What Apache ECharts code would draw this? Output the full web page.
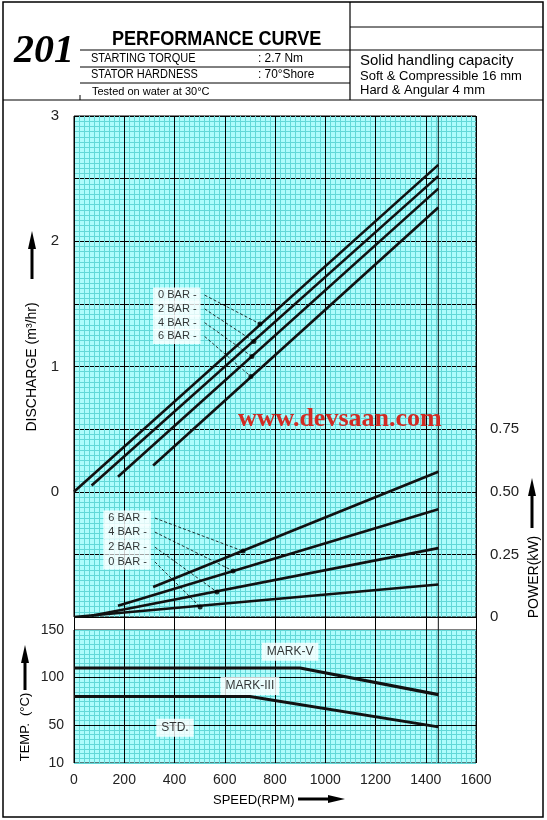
<!DOCTYPE html>
<html><head><meta charset="utf-8">
<script src="https://cdn.jsdelivr.net/npm/echarts@6/dist/echarts.min.js"></script>
<style>html,body{margin:0;padding:0;background:#fff}#c{width:547px;height:820px}</style>
</head><body><div id="c"></div>
<script>
// ---------- data ----------
const speedTicks = [0, 200, 400, 600, 800, 1000, 1200, 1400, 1600];
const dischargeTicks = [0, 1, 2, 3];
const powerTicks = [0, 0.25, 0.5, 0.75];
const tempTicks = [10, 50, 100, 150];
const barNames = ['0 BAR', '2 BAR', '4 BAR', '6 BAR'];
const ratedSpeed = 1450;

const discharge0Bar = [[0, 0], [1450, 2.61]];
const discharge2Bar = [[70, 0.05], [1450, 2.52]];
const discharge4Bar = [[175, 0.12], [1450, 2.42]];
const discharge6Bar = [[315, 0.21], [1450, 2.27]];

const power0Bar = [[0, 0], [1450, 0.13]];
const power2Bar = [[70, 0.005], [1450, 0.275]];
const power4Bar = [[175, 0.045], [1450, 0.43]];
const power6Bar = [[315, 0.12], [1450, 0.58]];

const tempMarkV = [[0, 110], [900, 110], [1450, 82]];
const tempStd = [[0, 80], [700, 80], [1450, 48]];

const dischargeDots = [[740, 1.34], [716, 1.2], [708, 1.08], [704, 0.92]];
const dischargeLabelAt = [[520, 1.57], [520, 1.46], [520, 1.35], [520, 1.24]];
const powerDots = [[502, 0.04], [569, 0.10], [633, 0.184], [673, 0.263]];
const powerLabelAt = [[322, 0.22], [322, 0.279], [322, 0.339], [322, 0.395]];

const tempLabels = ['MARK-V', 'MARK-III', 'STD.'];
const tempLabelAt = [[860, 127], [700, 91], [402, 47]];

// ---------- styles ----------
const CYAN = '#aefcfc', MINOR = '#62d8d8', INK = '#111';
const FONT = "'Liberation Sans', Arial, sans-serif";

function xAxisCfg(gi, labels, minor) {
  return {
    type: 'value', gridIndex: gi, min: speedTicks[0], max: speedTicks[speedTicks.length - 1],
    interval: speedTicks[1] - speedTicks[0],
    axisLine: { show: false }, axisTick: { show: false },
    axisLabel: { show: labels, margin: 10, fontSize: 14, color: '#222', fontFamily: FONT,
      formatter: v => String(v) },
    splitLine: { show: true, lineStyle: { color: '#000', width: 1 } },
    minorTick: { show: false, splitNumber: 10 },
    minorSplitLine: { show: minor, lineStyle: { color: MINOR, width: 1 } }
  };
}
const lineS = (data, xi, yi, w) => ({
  type: 'line', data, xAxisIndex: xi, yAxisIndex: yi, symbol: 'none', silent: true,
  lineStyle: { color: INK, width: w }, z: 5
});

const series = [];
[discharge0Bar, discharge2Bar, discharge4Bar, discharge6Bar].forEach(d => series.push(lineS(d, 0, 0, 2.6)));
[power0Bar, power2Bar, power4Bar, power6Bar].forEach(d => series.push(lineS(d, 0, 1, 2.6)));
// rated speed verticals
series.push(Object.assign(lineS([[ratedSpeed, -1], [ratedSpeed, 3]], 0, 0, 1), { z: 3 }));
series.push(Object.assign(lineS([[ratedSpeed, 0], [ratedSpeed, 1]], 1, 2, 1), { z: 3 }));
series.push(Object.assign(lineS([[ratedSpeed, 10], [ratedSpeed, 150]], 2, 3, 1), { z: 3 }));
// leaders
function leaders(from, to, yi) {
  from.forEach((p, i) => series.push({
    type: 'line', data: [p, to[i]], xAxisIndex: 0, yAxisIndex: yi, symbol: 'none', silent: true,
    lineStyle: { color: '#000', width: 0.8, type: [3, 2] }, z: 6
  }));
  series.push({
    type: 'scatter', data: to, xAxisIndex: 0, yAxisIndex: yi, symbolSize: 5, silent: true,
    itemStyle: { color: '#000' }, z: 7
  });
  series.push({
    type: 'scatter', data: from, xAxisIndex: 0, yAxisIndex: yi, symbolSize: 0.1, silent: true, z: 8,
    label: {
      show: true, position: 'left', distance: 4, formatter: p => barNames[p.dataIndex] + ' -',
      backgroundColor: '#fff', padding: [2, 4, 2, 5], fontSize: 11, color: '#000', fontFamily: FONT
    }
  });
}
leaders(dischargeLabelAt, dischargeDots, 0);
leaders(powerLabelAt, powerDots, 1);
// temperature
series.push(Object.assign(lineS(tempMarkV, 2, 3, 3.2), {
  markLine: {
    silent: true, symbol: 'none', label: { show: false },
    lineStyle: { color: '#000', width: 1, type: 'solid' },
    data: [{ yAxis: tempTicks[1] }, { yAxis: tempTicks[2] }]
  }
}));
series.push(lineS(tempStd, 2, 3, 2.8));
series.push({
  type: 'scatter', data: tempLabelAt, xAxisIndex: 2, yAxisIndex: 3, symbolSize: 0.1, silent: true, z: 8,
  label: {
    show: true, position: 'inside', formatter: p => tempLabels[p.dataIndex],
    backgroundColor: '#fff', padding: [3, 5], fontSize: 12, color: '#000', fontFamily: FONT
  }
});

// ---------- graphics ----------
const G = [];
const ln = (x1, y1, x2, y2, w) => G.push({ type: 'line', shape: { x1, y1, x2, y2 }, style: { stroke: '#000', lineWidth: w || 1 }, z: 100 });
const tx = (text, x, y, font, opt) => G.push(Object.assign({
  type: 'text', x, y, z: 100,
  style: Object.assign({ text, font, fill: '#000', textAlign: 'left', textVerticalAlign: 'middle' }, (opt && opt.style) || {})
}, (opt && opt.el) || {}));
G.push({ type: 'rect', shape: { x: 3, y: 2, width: 540, height: 815 }, style: { fill: 'none', stroke: '#000', lineWidth: 1.5 }, z: 100 });
ln(3, 100, 543, 100, 1.2);
ln(350, 2, 350, 100, 1.2);
ln(350, 27, 543, 27);
ln(80, 50, 543, 50);
ln(80, 67, 350, 67);
ln(80, 83, 350, 83);
ln(80, 95, 80, 100);
tx('201', 14, 52, "italic bold 40px 'Liberation Serif', 'Times New Roman', serif");
tx('PERFORMANCE CURVE', 112, 39, "bold 21px 'Liberation Sans', Arial, sans-serif", { el: { scaleX: 0.86 } });
tx('STARTING TORQUE', 91, 59, "12.5px " + FONT, { el: { scaleX: 0.88 } });
tx(': 2.7 Nm', 258, 59, "12.5px " + FONT, { el: { scaleX: 0.95 } });
tx('STATOR HARDNESS', 91, 75, "12.5px " + FONT, { el: { scaleX: 0.88 } });
tx(': 70°Shore', 258, 75, "12.5px " + FONT, { el: { scaleX: 0.95 } });
tx('Tested on water at 30°C', 92, 92, "11px " + FONT);
tx('Solid handling capacity', 360, 61, "15px " + FONT);
tx('Soft & Compressible 16 mm', 360, 76, "13px " + FONT);
tx('Hard & Angular 4 mm', 360, 90, "13px " + FONT);
// axis titles
const rot = { el: { rotation: Math.PI / 2 }, style: { textAlign: 'center' } };
tx('DISCHARGE (m³/hr)', 32, 367, "14px " + FONT, rot);
tx('POWER(kW)', 534, 577, "14px " + FONT, rot);
tx('TEMP.  (°C)', 25, 727, "13px " + FONT, rot);
tx('SPEED(RPM)', 213, 800, "13px " + FONT);
// arrows
const arrowUp = (x, tip, bottom) => {
  G.push({ type: 'polygon', shape: { points: [[x, tip], [x - 4, tip + 18], [x + 4, tip + 18]] }, style: { fill: '#000' }, z: 100 });
  G.push({ type: 'rect', shape: { x: x - 1.5, y: tip + 16, width: 3, height: bottom - tip - 16 }, style: { fill: '#000' }, z: 100 });
};
arrowUp(32, 231, 279);
arrowUp(532, 478, 528);
arrowUp(25, 645, 690);
G.push({ type: 'polygon', shape: { points: [[345, 799], [328, 795], [328, 803]] }, style: { fill: '#000' }, z: 100 });
G.push({ type: 'rect', shape: { x: 298, y: 797.5, width: 31, height: 3 }, style: { fill: '#000' }, z: 100 });
// watermark
tx('www.devsaan.com', 238, 419, "bold 26px 'Liberation Serif', 'Times New Roman', serif", { style: { fill: '#d22a22' } });

// ---------- chart ----------
const chart = echarts.init(document.getElementById('c'), null, { renderer: 'canvas' });
chart.setOption({
  animation: false,
  backgroundColor: '#fff',
  grid: [
    { left: 74, top: 116, width: 402, height: 501, show: true, backgroundColor: CYAN, borderColor: '#000', borderWidth: 1, containLabel: false, outerBoundsMode: 'none' },
    { left: 74, top: 617, width: 402, height: 13, show: false, containLabel: false, outerBoundsMode: 'none' },
    { left: 74, top: 630, width: 402, height: 133, show: true, backgroundColor: CYAN, borderColor: '#000', borderWidth: 1, containLabel: false, outerBoundsMode: 'none' }
  ],
  xAxis: [xAxisCfg(0, false, true), xAxisCfg(1, false, false), xAxisCfg(2, true, true)],
  yAxis: [
    {
      type: 'value', gridIndex: 0, min: -1, max: dischargeTicks[dischargeTicks.length - 1], interval: 0.5,
      axisLine: { show: false }, axisTick: { show: false },
      axisLabel: { margin: 15, fontSize: 15, color: '#222', fontFamily: FONT,
        formatter: v => dischargeTicks.indexOf(v) >= 0 ? String(v) : '' },
      splitLine: { show: true, lineStyle: { color: '#000', width: 1 } },
      minorTick: { show: false, splitNumber: 12 },
      minorSplitLine: { show: true, lineStyle: { color: MINOR, width: 1 } }
    },
    {
      type: 'value', gridIndex: 0, position: 'right', min: 0, max: 2, interval: 0.25,
      axisLine: { show: false }, axisTick: { show: false }, splitLine: { show: false },
      axisLabel: { margin: 14, fontSize: 15, color: '#222', fontFamily: FONT, align: 'left',
        formatter: v => powerTicks.indexOf(v) >= 0 ? (v === 0 ? '0' : v.toFixed(2)) : '' }
    },
    {
      type: 'value', gridIndex: 1, min: 0, max: 1, show: false, splitLine: { show: false }
    },
    {
      type: 'value', gridIndex: 2, min: tempTicks[0], max: tempTicks[tempTicks.length - 1], interval: 5,
      axisLine: { show: false }, axisTick: { show: false },
      axisLabel: { margin: 10, fontSize: 14, color: '#222', fontFamily: FONT,
        formatter: v => tempTicks.indexOf(v) >= 0 ? String(v) : '' },
      splitLine: { show: true, lineStyle: { color: MINOR, width: 1 } }
    }
  ],
  series,
  graphic: { elements: G }
});
</script></body></html>
